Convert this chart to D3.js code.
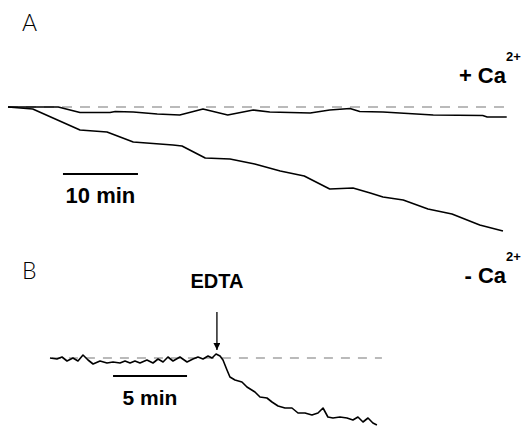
<!DOCTYPE html>
<html>
<head>
<meta charset="utf-8">
<script src="https://cdn.jsdelivr.net/npm/d3@7/dist/d3.min.js"></script>
<style>
  body { margin: 0; background: #fff; }
  svg { display: block; }
  .label { font-family: "Liberation Sans", Arial, sans-serif; font-weight: bold; fill: #000; }
  .panel { font-family: Lato, "DejaVu Sans", sans-serif; font-weight: 300; fill: #000; }
</style>
</head>
<body>
<script>
// Panel A: time (min) and signal (arbitrary units, 0 = baseline)
const plusCaTime   = [0, 6.7, 9.6, 13.6, 14.3, 16.7, 19.9, 22.9, 26.0, 29.3, 32.7, 34.9, 40.3, 42.9, 45.6, 46.9, 50.0, 56.7, 63.3, 63.9, 66.5];
const plusCaValue  = [0, 0, -0.55, -0.55, -0.45, -0.5, -0.7, -0.8, -0.2, -0.8, -0.3, -0.5, -0.6, -0.3, -0.15, -0.45, -0.5, -0.8, -0.85, -1.0, -1.0];
const minusCaTime  = [0, 3.3, 9.6, 13.2, 16.7, 22.0, 23.2, 26.3, 29.6, 32.9, 36.3, 39.5, 42.9, 46.0, 48.3, 50.0, 52.7, 56.0, 59.2, 62.9, 66.0];
const minusCaValue = [0, -0.2, -2.3, -2.5, -3.5, -3.8, -3.9, -5.1, -5.2, -5.7, -6.4, -6.9, -8.2, -8.1, -8.6, -9.0, -9.3, -10.2, -10.7, -11.8, -12.4];

// Panel B: EDTA added at ~11.3 min
const edtaTime  = [0, 0.47, 0.81, 1.15, 1.55, 1.89, 2.23, 2.57, 2.91, 3.38, 3.85, 4.26, 4.73, 5.07, 5.41, 5.74, 6.08, 6.55, 6.96, 7.30, 7.64, 7.97, 8.31, 8.78, 9.26, 9.66, 10.0, 10.34, 10.68, 10.95, 11.22, 11.49, 11.69, 11.96, 12.16, 12.5, 12.97, 13.31, 13.85, 14.19, 14.66, 15.0, 15.41, 15.88, 16.35, 16.76, 17.23, 17.70, 18.11, 18.45, 18.78, 19.12, 19.59, 20.07, 20.47, 20.81, 21.15, 21.49, 21.82, 22.09];
const edtaValue = [0, -0.1, 0.1, -0.3, 0, -0.3, 0.3, -0.2, -0.6, -0.3, -0.5, -0.4, -0.5, -0.3, -0.5, -0.3, -0.5, -0.2, -0.5, -0.1, -0.4, 0.1, -0.3, 0.1, -0.4, -0.1, 0.1, -0.1, 0.2, 0, 0.4, 0.2, -0.2, -1.2, -1.9, -2.2, -2.4, -2.9, -3.4, -3.9, -4.0, -4.4, -4.8, -5.0, -5.0, -5.5, -5.5, -5.7, -5.5, -5.0, -5.9, -6.0, -5.9, -6.0, -6.2, -5.9, -6.4, -6.0, -6.5, -6.7];
const edtaAt = 11.28;

const width = 523;
const height = 428;

let svg = d3.select('body')
  .append('svg')
  .attr('width', width)
  .attr('height', height);

svg.append('rect').attr('width', width).attr('height', height).attr('fill', '#fff');

// scales
let xA = d3.scaleLinear().domain([0, 66.27]).range([8, 505]);
let yA = d3.scaleLinear().domain([0, -12.4]).range([107, 231]);
let xB = d3.scaleLinear().domain([0, 22.3]).range([50, 380]);
let yB = d3.scaleLinear().domain([0, -6.7]).range([358, 425]);

const zip = (t, v) => t.map((d, i) => [d, v[i]]);

let lineA = d3.line().x(d => xA(d[0])).y(d => yA(d[1]));
let lineB = d3.line().x(d => xB(d[0])).y(d => yB(d[1]));

// baselines
svg.append('line')
  .attr('x1', xA(0)).attr('x2', xA(66.5))
  .attr('y1', yA(0)).attr('y2', yA(0))
  .attr('stroke', '#777').attr('stroke-width', 1.2)
  .attr('stroke-dasharray', '10,8');

svg.append('line')
  .attr('x1', xB(0.13)).attr('x2', xB(22.43))
  .attr('y1', yB(0)).attr('y2', yB(0))
  .attr('stroke', '#777').attr('stroke-width', 1.2)
  .attr('stroke-dasharray', '9,8');

// traces
[zip(plusCaTime, plusCaValue), zip(minusCaTime, minusCaValue)].forEach(d => {
  svg.append('path')
    .attr('d', lineA(d))
    .attr('fill', 'none')
    .attr('stroke', '#000')
    .attr('stroke-width', 1.6)
    .attr('stroke-linejoin', 'round');
});

svg.append('path')
  .attr('d', lineB(zip(edtaTime, edtaValue)))
  .attr('fill', 'none')
  .attr('stroke', '#000')
  .attr('stroke-width', 1.6)
  .attr('stroke-linejoin', 'round');

// scale bars
let barA0 = 7.33;
svg.append('line')
  .attr('x1', xA(barA0)).attr('x2', xA(barA0 + 10))
  .attr('y1', yA(-6.7)).attr('y2', yA(-6.7))
  .attr('stroke', '#000').attr('stroke-width', 1.8);
svg.append('text').attr('class', 'label')
  .attr('x', xA(barA0 + 5)).attr('y', 203)
  .attr('text-anchor', 'middle').attr('font-size', 22)
  .text('10 min');

let barB0 = 4.26;
svg.append('line')
  .attr('x1', xB(barB0)).attr('x2', xB(barB0 + 5))
  .attr('y1', yB(-1.8)).attr('y2', yB(-1.8))
  .attr('stroke', '#000').attr('stroke-width', 1.8);
svg.append('text').attr('class', 'label')
  .attr('x', xB(barB0 + 2.5)).attr('y', 405)
  .attr('text-anchor', 'middle').attr('font-size', 21)
  .text('5 min');

// EDTA arrow
let defs = svg.append('defs');
defs.append('marker')
  .attr('id', 'head')
  .attr('viewBox', '0 0 10 10')
  .attr('refX', 10).attr('refY', 5)
  .attr('markerWidth', 7).attr('markerHeight', 7)
  .attr('markerUnits', 'userSpaceOnUse')
  .attr('orient', 'auto')
  .append('path').attr('d', 'M0,0 L10,5 L0,10 z').attr('fill', '#000');

svg.append('line')
  .attr('x1', xB(edtaAt)).attr('x2', xB(edtaAt))
  .attr('y1', 312).attr('y2', 350)
  .attr('stroke', '#000').attr('stroke-width', 1.3)
  .attr('marker-end', 'url(#head)');
svg.append('text').attr('class', 'label')
  .attr('x', xB(edtaAt)).attr('y', 288)
  .attr('text-anchor', 'middle').attr('font-size', 20)
  .text('EDTA');

// condition labels
const caLabel = (sign, y) => {
  svg.append('text').attr('class', 'label')
    .attr('x', 506).attr('y', y)
    .attr('text-anchor', 'end').attr('font-size', 22)
    .text(sign + ' Ca');
  svg.append('text').attr('class', 'label')
    .attr('x', 506).attr('y', y - 22)
    .attr('font-size', 13)
    .text('2+');
};
caLabel('+', 83);
caLabel('-', 283);

// panel letters
svg.append('text').attr('class', 'panel')
  .attr('x', 22).attr('y', 31).attr('font-size', 23)
  .text('A');
svg.append('text').attr('class', 'panel')
  .attr('x', 22).attr('y', 279).attr('font-size', 23)
  .text('B');
</script>
</body>
</html>
